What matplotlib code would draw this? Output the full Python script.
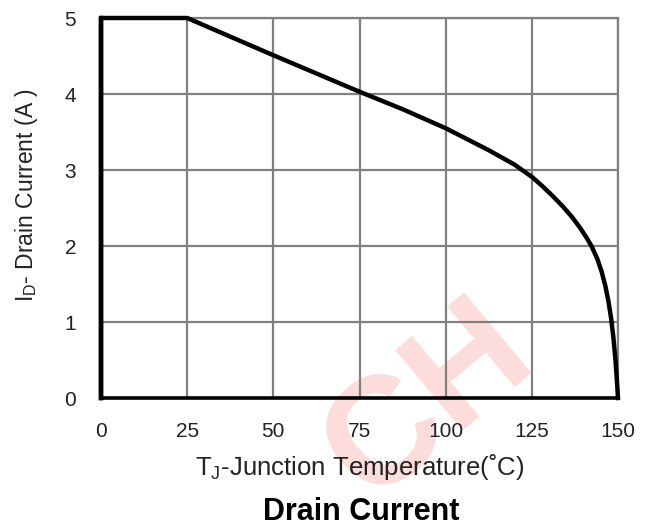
import matplotlib.pyplot as plt

# derating curve
tj = [0, 0, 25, 50, 75, 87.5, 100, 112.5, 120, 125, 128, 131, 134, 136.5, 139,
      141, 142.3, 144, 145.2, 146.3, 147.2, 148, 148.7, 149.3, 149.7, 150]
i_d = [0, 5, 5, 4.51, 4.03, 3.80, 3.55, 3.26, 3.07, 2.91, 2.79, 2.66, 2.52, 2.39, 2.24,
       2.10, 2.0, 1.83, 1.67, 1.48, 1.28, 1.05, 0.78, 0.48, 0.22, 0]
xticks = [0, 25, 50, 75, 100, 125, 150]
yticks = [0, 1, 2, 3, 4, 5]

plt.rcParams["font.family"] = ["Liberation Sans", "DejaVu Sans"]

fig = plt.figure(figsize=(6.51, 5.30), dpi=100)
ax = fig.add_axes([101 / 651, 132 / 530, 517 / 651, 380 / 530])

# faint watermark, drawn under the axes
fig.text(0.66, 0.24, "CH", fontsize=110, fontweight="bold", color="#fddcdc",
         rotation=40, ha="center", va="center", zorder=-1)
ax.patch.set_alpha(0)

ax.plot(tj, i_d, color="black", lw=3.2, solid_joinstyle="round", zorder=5, clip_on=False)

ax.set_xlim(0, 150)
ax.set_ylim(0, 5)
ax.set_xticks(xticks)
ax.set_yticks(yticks)
ax.grid(True, color="#808080", lw=1.6)
ax.tick_params(length=0, labelsize=15, colors="#222222")
ax.tick_params(axis="x", pad=17)
ax.tick_params(axis="y", pad=18)

for s in ("top", "right"):
    ax.spines[s].set_color("#808080")
    ax.spines[s].set_linewidth(1.6)
ax.spines["bottom"].set_color("black")
ax.spines["bottom"].set_linewidth(2.6)
ax.spines["left"].set_color("black")
ax.spines["left"].set_linewidth(3.2)

ax.set_xlabel("T$_\\mathregular{J}$-Junction Temperature(˚C)", fontsize=18.5, color="#222222")
ax.xaxis.label.set_va("center")
ax.xaxis.set_label_coords(0.5, (398 - 467) / 380)
ax.set_ylabel("I$_\\mathregular{D}$- Drain Current (A )", fontsize=16.5, color="#222222")
ax.yaxis.label.set_va("center")
ax.yaxis.set_label_coords((27 - 101) / 517, (398 - 195) / 380)
fig.text(361 / 651, 1 - 512 / 530, "Drain Current", fontsize=22, fontweight="bold",
         ha="center", va="center")

fig.savefig("out.png", dpi=100)
